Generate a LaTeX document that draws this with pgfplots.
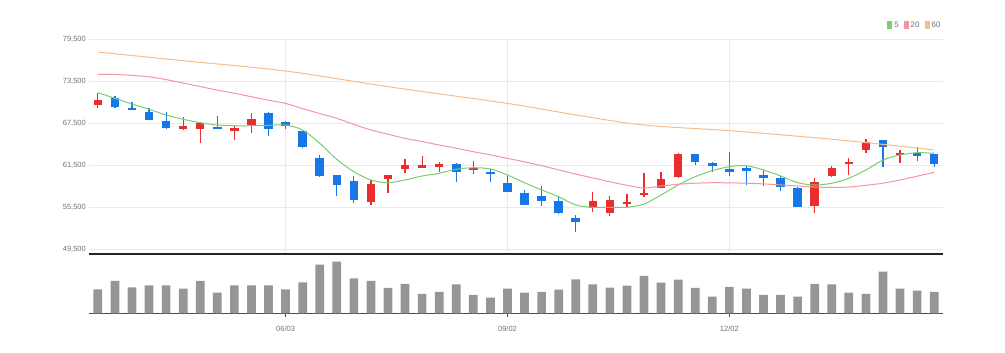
\documentclass[border=0pt]{standalone}
\usepackage{fontspec}
\setmainfont{Liberation Sans}
\usepackage{pgfplots}
\usepackage{pgfplotstable}
\pgfplotsset{compat=1.18}
\definecolor{upc}{RGB}{234,45,46}
\definecolor{dnc}{RGB}{24,119,232}
\definecolor{ma5}{RGB}{120,205,110}
\definecolor{ma20}{RGB}{243,150,160}
\definecolor{ma60}{RGB}{246,190,140}
\definecolor{volc}{RGB}{150,150,150}
\definecolor{labc}{RGB}{115,115,115}
\definecolor{gridc}{RGB}{234,234,234}

% up (red) candles: index open high low close
\pgfplotstableread{
i o h l c
0 70000 71800 69700 70800
5 66650 68400 66500 67050
6 66650 67700 64600 67550
8 66400 67000 65100 66750
9 67200 68900 66100 68100
16 56250 59350 55800 58800
17 59450 60100 57550 60050
18 60900 62300 60400 61450
19 61050 62800 61000 61450
20 61150 61950 60550 61650
22 60750 62050 60150 61050
29 55300 57600 54850 56400
30 54600 57050 54200 56500
31 55950 57350 55450 56250
32 57150 60300 56900 57550
33 58250 60550 58150 59550
34 59850 63250 59600 63100
42 55700 59600 54600 59100
43 59950 61350 59850 61050
44 61600 62450 60050 61950
45 63650 65150 63200 64850
47 62900 63650 61750 63150
}\up

% down (blue) candles
\pgfplotstableread{
i o h l c
1 71000 71300 69700 69800
2 69600 70500 69300 69300
3 69000 69700 67900 67900
4 67800 69100 66700 66800
7 66950 68500 66600 66600
10 68900 69000 65600 66700
11 67650 67800 66600 67050
12 66300 66400 63950 64000
13 62450 62900 59800 59950
14 60000 60050 57000 58700
15 59200 59900 56100 56500
21 61600 61750 59000 60550
23 60500 60900 59100 60150
24 58900 59950 57600 57700
25 57550 57950 55750 55800
26 57100 58500 55650 56350
27 56400 57000 54500 54600
28 53900 54350 52000 53400
35 63050 63100 61500 61950
36 61750 61950 60550 61350
37 60900 63400 59950 60550
38 61050 61350 58650 60650
39 60050 60800 58500 59700
40 59600 59950 57850 58300
41 58250 58400 55500 55550
46 65000 65100 61250 64050
48 63250 64100 62100 62800
49 63050 63100 61150 61600
}\down

\pgfplotstableread{
i v
0 71830
1 71030
2 70210
3 69460
4 68640
5 68030
6 67540
7 67210
8 67110
9 67110
10 67170
11 67210
12 66500
13 64600
14 62310
15 60540
16 59360
17 58970
18 59360
19 59930
20 60310
21 60890
22 61110
23 60930
24 60070
25 58970
26 57930
27 56970
28 55790
29 55460
30 55460
31 55460
32 55930
33 57210
34 58640
35 59830
36 60690
37 61260
38 61400
39 60790
40 59930
41 58970
42 58640
43 58890
44 59600
45 60790
46 62210
47 62930
48 63260
49 63170
}\maA

\pgfplotstableread{
i v
0 74450
1 74430
2 74300
3 74100
4 73700
5 73200
6 72700
7 72200
8 71750
9 71250
10 70750
11 70300
12 69550
13 68850
14 68170
15 67300
16 66500
17 65900
18 65300
19 64850
20 64350
21 63900
22 63400
23 62950
24 62450
25 61950
26 61400
27 60800
28 60200
29 59650
30 59100
31 58600
32 58200
33 58500
34 58750
35 58900
36 58970
37 58950
38 58900
39 58800
40 58650
41 58500
42 58350
43 58300
44 58350
45 58600
46 58900
47 59350
48 59900
49 60450
}\maB

\pgfplotstableread{
i v
0 77640
5 76400
11 74930
17 72690
24 70300
28 68650
32 67210
37 66400
42 65400
46 64450
49 63640
}\maC

\pgfplotstableread{
i v
0 72
1 97
2 78
3 84
4 84
5 74
6 97
7 62
8 84
9 84
10 84
11 72
12 93
13 146
14 155
15 105
16 97
17 76
18 88
19 58
20 64
21 87
22 55
23 47
24 74
25 62
26 64
27 71
28 102
29 87
30 77
31 83
32 112
33 92
34 101
35 76
36 50
37 79
38 74
39 55
40 55
41 50
42 88
43 87
44 62
45 58
46 125
47 74
48 68
49 64
}\vol

\begin{document}
\begin{tikzpicture}
\useasboundingbox (0,0) rectangle (1005bp,353bp);
\begin{axis}[
  at={(89.3bp,99bp)}, anchor=south west, scale only axis,
  width=853.4bp, height=215bp,
  xmin=-0.5, xmax=49.5, ymin=48786, ymax=79500,
  axis x line=bottom, axis y line=left,
  axis line style={-},
  y axis line style={draw=none},
  x axis line style={line width=1.5bp, black!85},
  xtick={11,24,37}, xticklabels={},
  xmajorgrids, ymajorgrids,
  ytick={49500,55500,61500,67500,73500,79500},
  scaled y ticks=false,
  grid style={gridc, line width=0.6bp},
  major tick length=0pt,
  yticklabel style={font=\fontsize{7.5bp}{9bp}\selectfont, text=labc},
  /pgf/number format/1000 sep={,},
  /pgf/number format/assume math mode=true,
  legend style={at={(rel axis cs:1,1)}, anchor=south east, yshift=8bp, draw=none, fill=none,
    font=\fontsize{8bp}{9bp}\selectfont, text=labc, inner sep=0pt,
    legend cell align=left,
    /tikz/every even column/.append style={column sep=3bp}},
  legend columns=-1,
  legend image code/.code={\fill[#1] (2bp,-3.5bp) rectangle (6bp,3.5bp);},
]
% wicks
\addplot[draw=none, mark=none, forget plot, error bars/.cd, y dir=plus, y explicit, error mark=none,
  error bar style={draw=upc, line width=1.2bp}]
  table[x=i, y=l, y error plus expr=\thisrow{h}-\thisrow{l}] {\up};
\addplot[draw=none, mark=none, forget plot, error bars/.cd, y dir=plus, y explicit, error mark=none,
  error bar style={draw=dnc, line width=1.2bp}]
  table[x=i, y=l, y error plus expr=\thisrow{h}-\thisrow{l}] {\down};
% bodies
\addplot[draw=none, mark=none, forget plot, error bars/.cd, y dir=plus, y explicit, error mark=none,
  error bar style={draw=upc, line width=8.5bp}]
  table[x=i, y=o, y error plus expr=\thisrow{c}-\thisrow{o}] {\up};
\addplot[draw=none, mark=none, forget plot, error bars/.cd, y dir=plus, y explicit, error mark=none,
  error bar style={draw=dnc, line width=8.5bp}]
  table[x=i, y=c, y error plus expr=\thisrow{o}-\thisrow{c}] {\down};
% moving averages
\addplot[color=ma5, line width=1bp, smooth, mark=none] table[x=i, y=v] {\maA};
\addlegendentry{5}
\addplot[color=ma20, line width=1bp, smooth, mark=none] table[x=i, y=v] {\maB};
\addlegendentry{20}
\addplot[color=ma60, line width=1bp, smooth, mark=none] table[x=i, y=v] {\maC};
\addlegendentry{60}
\end{axis}

\begin{axis}[
  at={(89.3bp,39.7bp)}, anchor=south west, scale only axis,
  width=853.4bp, height=59.3bp,
  xmin=-0.5, xmax=49.5, ymin=0, ymax=178,
  axis x line=bottom, axis y line=none,
  axis line style={-},
  x axis line style={line width=1.2bp, black!70},
  xtick={11,24,37}, xticklabels={06/03,09/02,12/02},
  xtick align=outside, major tick length=4bp,
  tick style={black!70, line width=0.8bp},
  xticklabel style={font=\fontsize{7.5bp}{9bp}\selectfont, text=labc, yshift=-5bp},
]
\addplot[ybar, bar width=8.7bp, fill=volc, draw=none] table[x=i, y=v] {\vol};
\end{axis}
\end{tikzpicture}
\end{document}
